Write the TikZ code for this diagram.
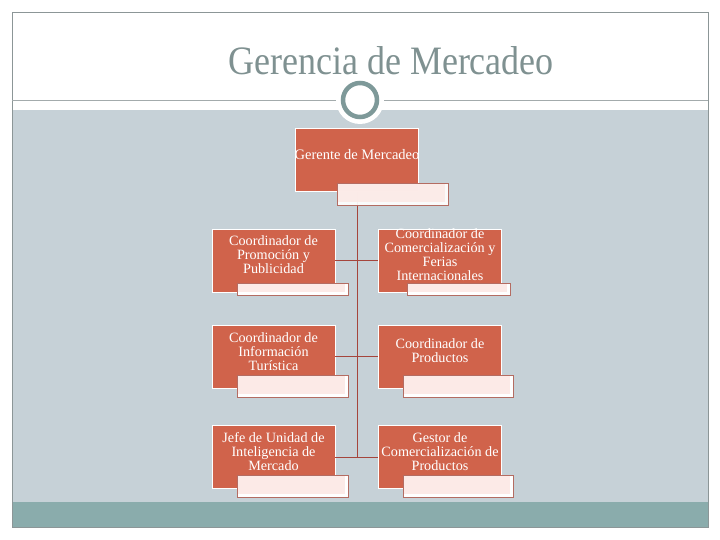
\documentclass[tikz,border=0pt]{standalone}
\usepackage{fontspec}
\setmainfont{Liberation Serif}
\definecolor{framegray}{HTML}{8C9697}
\definecolor{bandgray}{HTML}{C6D1D7}
\definecolor{bandteal}{HTML}{8AACAC}
\definecolor{ringteal}{HTML}{7E9999}
\definecolor{titlegray}{HTML}{7F9191}
\definecolor{boxred}{HTML}{D0634B}
\definecolor{linkred}{HTML}{A5453C}
\definecolor{tabpink}{HTML}{FCEAE7}
\definecolor{tabedge}{HTML}{B46C62}
\tikzset{
  redbox/.style={draw=white, line width=0.8pt, fill=boxred, text=white,
    minimum width=123pt, minimum height=63pt, inner sep=0pt, align=center},
  tabbox/.style={draw=tabedge, line width=0.8pt, fill=white, inner sep=0pt,
    path picture={\fill[tabpink] (path picture bounding box.north west) rectangle ([xshift=-3pt,yshift=3pt]path picture bounding box.south east);}},
  link/.style={draw=linkred, line width=0.9pt},
  lbl/.style={text=white, align=center, font=\fontsize{14.2}{14}\selectfont, inner sep=0pt}
}
\begin{document}
\begin{tikzpicture}[x=1pt,y=-1pt]
\useasboundingbox (0,0) rectangle (720,540);
% background bands
\fill[white] (0,0) rectangle (720,540);
\fill[bandgray] (12,110) rectangle (708,502);
\fill[bandteal] (12,502) rectangle (708,527);
\draw[framegray, line width=0.9pt] (12,12) rectangle (708,527);
\draw[framegray!80, line width=0.9pt] (12,100) -- (708,100);
% circle ornament
\fill[white] (360,100) circle (24);
\draw[ringteal, line width=4.5pt, fill=white] (360,100) circle (17);
% title
\node[text=titlegray, font=\fontsize{36}{40}\selectfont] (title) at (391,61) {\scalebox{1}[1.12]{Gerencia de Mercadeo}};
% trunk coordinates
\coordinate (trunktop) at (357,191);
\coordinate (trunkbot) at (357,457);
\draw[link] (trunktop) -- (trunkbot);
% top node
\node[redbox] (gm) at (356.5,159.5) {};
\node[lbl, font=\fontsize{14.5}{14}\selectfont] (gmtext) at (357,155) {Gerente de Mercadeo};
\node[tabbox, minimum width=111pt, minimum height=22pt, fill opacity=0.92] (gmtab) at (392.5,194) {};
% row nodes
\node[redbox] (l1) at (273.5,260.5) {};
\node[redbox] (r1) at (440,260.5) {};
\node[redbox] (l2) at (273.5,356.5) {};
\node[redbox] (r2) at (440,356.5) {};
\node[redbox] (l3) at (273.5,457) {};
\node[redbox] (r3) at (440,457) {};
% connectors
\draw[link] (l1.east) -- (r1.west);
\draw[link] (l2.east) -- (r2.west);
\draw[link] (l3.east) -- (r3.west);
% tabs
\node[tabbox, minimum width=111pt, minimum height=12pt] (l1tab) at (292.5,289) {};
\node[tabbox, minimum width=103pt, minimum height=12pt] (r1tab) at (458.5,289) {};
\node[tabbox, minimum width=111pt, minimum height=22pt] (l2tab) at (292.5,386) {};
\node[tabbox, minimum width=110pt, minimum height=22pt] (r2tab) at (458,386) {};
\node[tabbox, minimum width=111pt, minimum height=22pt] (l3tab) at (292.5,486) {};
\node[tabbox, minimum width=110pt, minimum height=22pt] (r3tab) at (458,486) {};
% labels
\node[lbl] (l1t) at (273.5,255) {Coordinador de\\Promoción y\\Publicidad};
\node[lbl] (r1t) at (440,255) {Coordinador de\\Comercialización y\\Ferias\\Internacionales};
\node[lbl] (l2t) at (273.5,352) {Coordinador de\\Información\\Turística};
\node[lbl] (r2t) at (440,351) {Coordinador de\\Productos};
\node[lbl] (l3t) at (273.5,452) {Jefe de Unidad de\\Inteligencia de\\Mercado};
\node[lbl] (r3t) at (440,452) {Gestor de\\Comercialización de\\Productos};
\end{tikzpicture}
\end{document}
